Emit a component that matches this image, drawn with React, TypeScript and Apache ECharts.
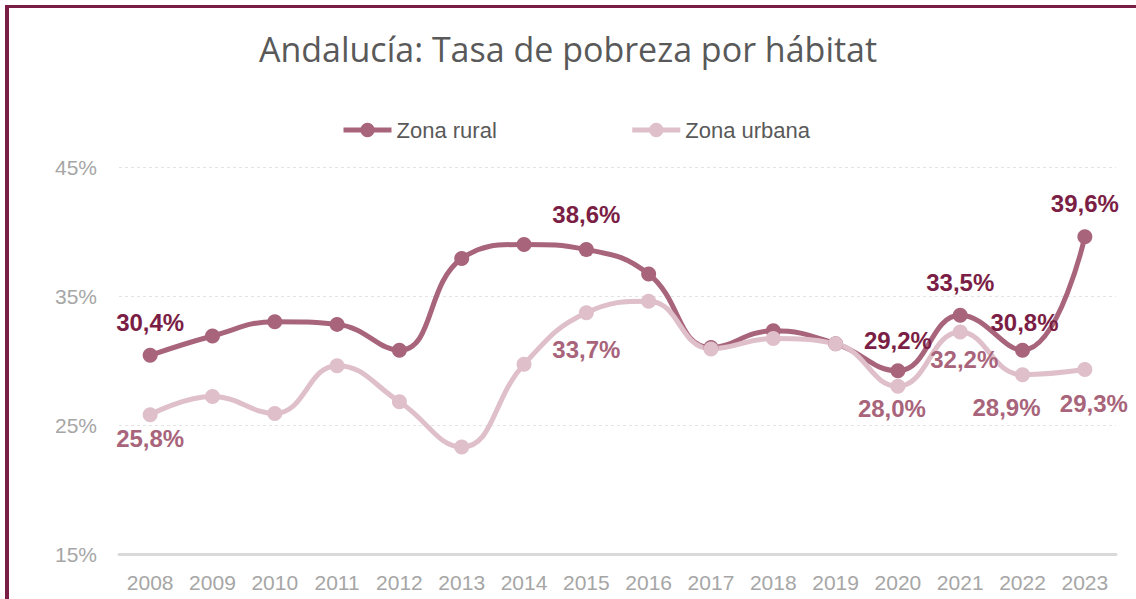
import React, { useEffect, useRef } from "react";
import * as echarts from "echarts";

const years = ["2008","2009","2010","2011","2012","2013","2014","2015","2016","2017","2018","2019","2020","2021","2022","2023"];
const rural = [30.4, 31.9, 33.0, 32.8, 30.8, 37.9, 39.0, 38.6, 36.7, 31.0, 32.3, 31.3, 29.2, 33.5, 30.8, 39.6];
const urbana = [25.8, 27.2, 25.9, 29.6, 26.8, 23.3, 29.7, 33.7, 34.6, 30.9, 31.7, 31.3, 28.0, 32.2, 28.9, 29.3];
const labeledYears = ["2008", "2015", "2020", "2021", "2022", "2023"];
const yTicks = { min: 15, max: 45, interval: 10 };

const TITLE = "Andalucía: Tasa de pobreza por hábitat";
const SERIES_NAMES = ["Zona rural", "Zona urbana"];

// label offsets (styling)
const ruralOffsets: Record<string, number[]> = {
  "2008": [0, -33], "2015": [0, -35], "2020": [0, -30], "2021": [0, -33], "2022": [2, -28], "2023": [0, -33],
};
const urbanOffsets: Record<string, number[]> = {
  "2008": [0, 24], "2015": [0, 37], "2020": [-6, 22], "2021": [4, 27], "2022": [-16, 33], "2023": [9, 34],
};

const fmt = (v: number) => v.toFixed(1).replace(".", ",") + "%";

function buildData(values: number[], offsets: Record<string, number[]>, color: string) {
  return values.map((v, i) => {
    const y = years[i];
    if (labeledYears.includes(y)) {
      return {
        value: v,
        label: {
          show: true,
          position: "inside",
          offset: offsets[y],
          formatter: () => fmt(v),
          color,
          fontSize: 24,
          fontWeight: "bold",
          fontFamily: "Liberation Sans, Arial, sans-serif",
        },
      };
    }
    return { value: v };
  });
}

export default function App() {
  const ref = useRef<HTMLDivElement>(null);
  useEffect(() => {
    if (!ref.current) return;
    const chart = echarts.init(ref.current, null, { renderer: "svg" });
    const ruralColor = "#A8647A";
    const urbanColor = "#DEBFCA";
    chart.setOption({
      animation: false,
      backgroundColor: "#ffffff",
      title: {
        text: TITLE,
        left: "center",
        top: 27,
        textStyle: {
          color: "#595959",
          fontSize: 34,
          fontWeight: "normal",
          fontFamily: "Open Sans, Liberation Sans, sans-serif",
        },
      },
      legend: {
        left: 336,
        top: 114,
        itemWidth: 48,
        itemHeight: 18,
        itemGap: 133,
        lineStyle: { width: 5 },
        textStyle: {
          color: "#595959",
          fontSize: 22,
          fontFamily: "Liberation Sans, Arial, sans-serif",
        },
        data: SERIES_NAMES,
      },
      graphic: [
        { type: "rect", shape: { x: 5, y: 5, width: 1131, height: 3 }, style: { fill: "#7B1E45" }, z: 100 },
        { type: "rect", shape: { x: 5, y: 5, width: 4, height: 594 }, style: { fill: "#7B1E45" }, z: 100 },
      ],
      grid: { left: 119, right: 20, top: 167, bottom: 45, containLabel: false },
      xAxis: {
        type: "category",
        data: years,
        boundaryGap: true,
        axisLine: { show: true, lineStyle: { color: "#D9D9D9", width: 3 } },
        axisTick: { show: false },
        axisLabel: {
          color: "#A6A6A6",
          fontSize: 21,
          margin: 18,
          fontFamily: "Liberation Sans, Arial, sans-serif",
        },
      },
      yAxis: {
        type: "value",
        min: yTicks.min,
        max: yTicks.max,
        interval: yTicks.interval,
        axisLine: { show: false },
        axisTick: { show: false },
        axisLabel: {
          formatter: "{value}%",
          color: "#A6A6A6",
          fontSize: 21,
          margin: 22,
          fontFamily: "Liberation Sans, Arial, sans-serif",
        },
        splitLine: { lineStyle: { color: "#E4E4E4", type: [3, 3], width: 1 } },
      },
      series: [
        {
          name: SERIES_NAMES[0],
          type: "line",
          smooth: 0.45,
          data: buildData(rural, ruralOffsets, "#7B1E45"),
          symbol: "circle",
          symbolSize: 15,
          lineStyle: { color: ruralColor, width: 5 },
          itemStyle: { color: ruralColor },
        },
        {
          name: SERIES_NAMES[1],
          type: "line",
          smooth: 0.45,
          data: buildData(urbana, urbanOffsets, "#A8647A"),
          symbol: "circle",
          symbolSize: 15,
          lineStyle: { color: urbanColor, width: 5 },
          itemStyle: { color: urbanColor },
        },
      ],
    });
    return () => chart.dispose();
  }, []);
  return <div ref={ref} style={{ position: "fixed", left: 0, top: 0, width: 1136, height: 599 }} />;
}
